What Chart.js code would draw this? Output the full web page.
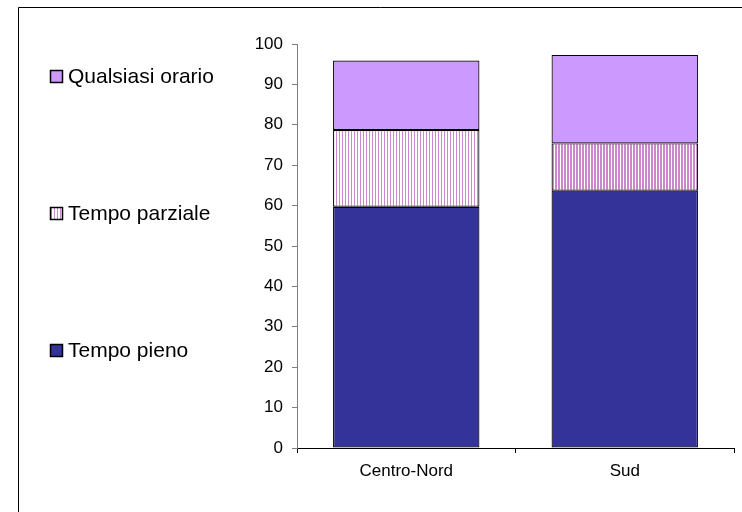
<!DOCTYPE html>
<html>
<head>
<meta charset="utf-8">
<script src="https://cdn.jsdelivr.net/npm/chart.js@4/dist/chart.umd.min.js"></script>
<style>
	html, body { margin: 0; padding: 0; background: #fff; }
	#wrap { width: 742px; height: 512px; }
</style>
</head>
<body>
<div id="wrap"><canvas id="chart" width="742" height="512"></canvas></div>
<script>
const categories      = ['Centro-Nord', 'Sud'];
const tempoPieno      = [59.7, 63.7];
const tempoParziale   = [19.0, 11.7];
const qualsiasiOrario = [17.2, 21.9];
const yTicks          = [0, 10, 20, 30, 40, 50, 60, 70, 80, 90, 100];

// vertical stripes for "Tempo parziale" (pink line width, period)
function stripes(pink, period) {
	let c = document.createElement('canvas');
	c.width = period; c.height = 2;
	let x = c.getContext('2d');
	x.fillStyle = '#ffffff';
	x.fillRect(0, 0, period, 2);
	x.fillStyle = '#cc88cc';
	x.fillRect(0, 0, pink, 2);
	return x.createPattern(c, 'repeat');
}

const ctx = document.getElementById('chart').getContext('2d');
const stripeLight = stripes(1, 3);
const stripeDense = stripes(2, 3);

// legend drawn at left, top to bottom, plus the outer frame
const sideLegend = {
	id: 'sideLegend',
	afterDraw(chart) {
		let c = chart.ctx;
		c.save();
		c.strokeStyle = '#000';
		c.lineWidth = 1;
		c.beginPath();
		c.moveTo(18.5, 512);
		c.lineTo(18.5, 7.5);
		c.lineTo(742, 7.5);
		c.stroke();

		let items = chart.data.datasets.slice().reverse();
		let ys = [76, 213, 350];
		c.font = '21px "Liberation Sans", Arial, sans-serif';
		c.textBaseline = 'middle';
		items.forEach((ds, i) => {
			let bg = Array.isArray(ds.backgroundColor) ? ds.backgroundColor[0] : ds.backgroundColor;
			c.fillStyle = bg;
			c.fillRect(50, ys[i] - 6, 12, 12);
			c.strokeStyle = '#000';
			c.lineWidth = 1.5;
			c.strokeRect(50.5, ys[i] - 5.5, 12, 12);
			c.fillStyle = '#000';
			c.fillText(ds.label, 68, ys[i] + 1);
		});
		c.restore();
	}
};

new Chart(ctx, {
	type: 'bar',
	data: {
		labels: categories,
		datasets: [
			{ label: 'Tempo pieno',      data: tempoPieno,      backgroundColor: '#333399' },
			{ label: 'Tempo parziale',   data: tempoParziale,   backgroundColor: [stripeLight, stripeDense] },
			{ label: 'Qualsiasi orario', data: qualsiasiOrario, backgroundColor: '#cc99ff' }
		]
	},
	options: {
		responsive: false,
		animation: false,
		events: [],
		layout: { padding: { top: 44, right: 8, left: 0, bottom: 0 } },
		datasets: { bar: { categoryPercentage: 1, barPercentage: 0.67, borderColor: '#000', borderWidth: 1.2, borderSkipped: false } },
		plugins: { legend: { display: false }, tooltip: { enabled: false } },
		scales: {
			x: {
				stacked: true,
				offset: true,
				grid: { display: true, drawOnChartArea: false, offset: true, tickLength: 5, color: '#000' },
				border: { color: '#000', width: 1 },
				ticks: { color: '#000', padding: 8, font: { family: '"Liberation Sans", Arial', size: 17 } },
				afterFit(s) { s.height = 64; }
			},
			y: {
				stacked: true,
				min: 0,
				max: 100,
				afterBuildTicks(s) { s.ticks = yTicks.map(v => ({ value: v })); },
				grid: { display: true, drawOnChartArea: false, tickLength: 5, color: '#808080' },
				border: { color: '#808080', width: 1 },
				ticks: { color: '#000', padding: 9, font: { family: '"Liberation Sans", Arial', size: 17 } },
				afterFit(s) { s.width = 297; }
			}
		}
	},
	plugins: [sideLegend]
});
</script>
</body>
</html>
